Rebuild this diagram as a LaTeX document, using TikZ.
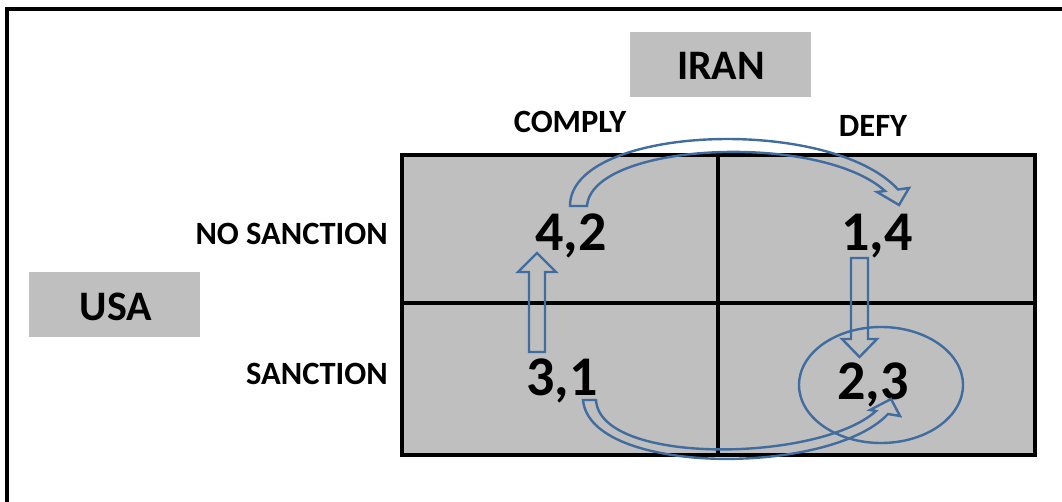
\documentclass[tikz,border=0pt]{standalone}
\usepackage{fontspec}
\setmainfont{Carlito}
\definecolor{cellgray}{RGB}{191,191,191}
\definecolor{arrowblue}{RGB}{65,108,160}
\begin{document}
\begin{tikzpicture}[x=1pt,y=-1pt,
  grid/.style={line width=4pt,black},
  blockarrow/.style={draw=arrowblue,line width=2.4pt,line join=miter},
  labelbox/.style={fill=cellgray,inner sep=0pt},
  hdr/.style={font=\fontsize{32.5}{32.5}\selectfont\bfseries,inner sep=0pt},
  big/.style={font=\fontsize{42}{42}\selectfont\bfseries,inner sep=0pt},
  payoff/.style={font=\fontsize{56}{56}\selectfont\bfseries,inner sep=0pt}]
\useasboundingbox (0,0) rectangle (1062,502);
% frame
\draw[line width=4pt] (1062,9) -- (7,9) -- (7,502);
% label boxes
\fill[labelbox] (630,32) rectangle (811,97);
\fill[labelbox] (29,272) rectangle (200,337);
\node[big,anchor=base] (iran) at (721,80) {IRAN};
\node[big,anchor=base] (usa) at (116,320) {USA};
% grid
\fill[cellgray] (402,155) rectangle (1035,455);
\draw[grid] (402,155) rectangle (1035,455);
\draw[grid] (402,303) -- (1035,303);
\draw[grid] (718,155) -- (718,455);
% headers
\node[hdr,anchor=base] (comply) at (570,133) {COMPLY};
\node[hdr,anchor=base] (defy) at (873,137) {DEFY};
\node[hdr,anchor=base east] (nosanc) at (388,245) {NO SANCTION};
\node[hdr,anchor=base east] (sanc) at (388,384) {SANCTION};
% payoffs
\node[payoff,anchor=base] (p42) at (571,251) {4,2};
\node[payoff,anchor=base] (p14) at (877,251) {1,4};
\node[payoff,anchor=base] (p31) at (562,395) {3,1};
\node[payoff,anchor=base] (p23) at (873,399) {2,3};
% equilibrium ellipse
\draw[arrowblue,line width=2.4pt] (881,385) ellipse [x radius=82,y radius=58];
% straight block arrows
\draw[blockarrow] (529,352) -- (529,272) -- (518,272) -- (537,253) -- (556,272) -- (545,272) -- (545,352) -- cycle;
\draw[blockarrow] (851,258) -- (851,339) -- (842,339) -- (859.5,357) -- (877,339) -- (868,339) -- (868,258) -- cycle;
% curved block arrow: comply -> defy (top)
\draw[blockarrow] (570,206) .. controls (570,125) and (830,115) .. (898,189.5)
  -- (909,188) -- (899,205) -- (877,192) -- (885,191)
  .. controls (820,132) and (592,142) .. (587,206) -- cycle;
% curved block arrow: 3,1 -> 2,3 (bottom)
\draw[blockarrow] (583,400) .. controls (590,476) and (830,476) .. (888,414)
  -- (900,416) -- (891,399) -- (870,410) -- (876,411)
  .. controls (820,462) and (600,466) .. (596,400) -- cycle;
\end{tikzpicture}
\end{document}
